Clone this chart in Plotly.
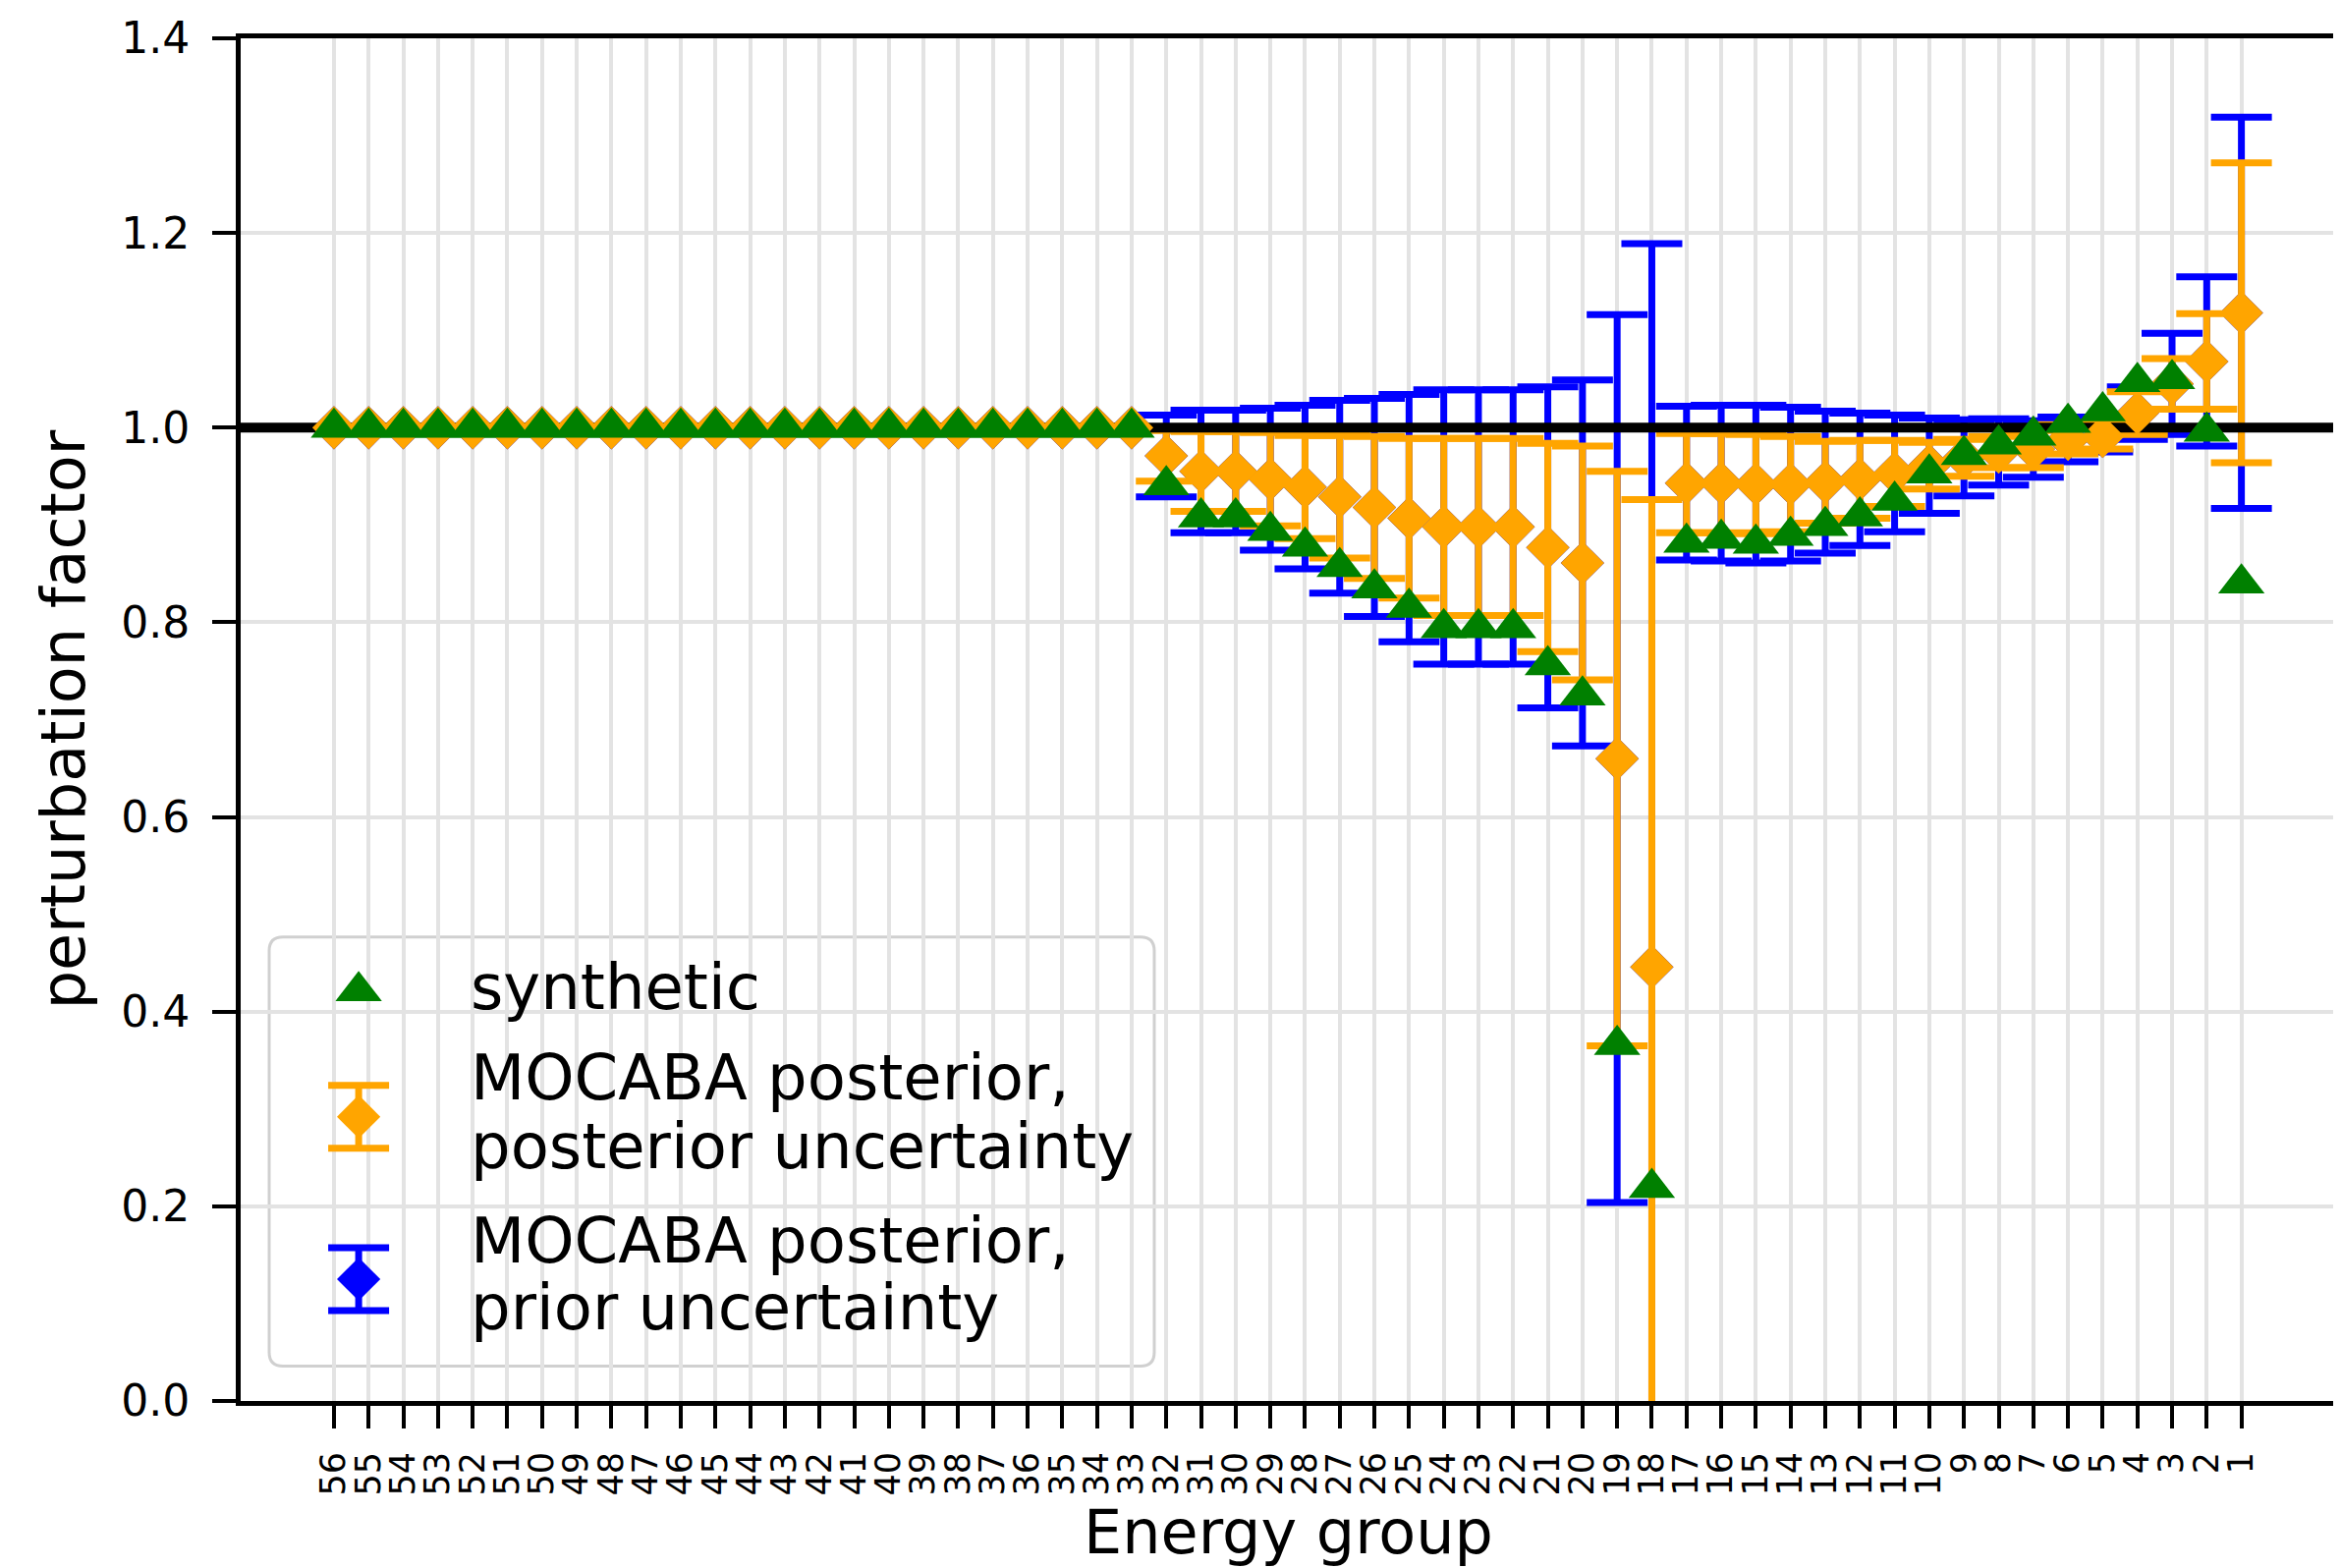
import plotly.graph_objects as go

# ---------------- data ----------------
groups = [56, 55, 54, 53, 52, 51, 50, 49, 48, 47, 46, 45, 44, 43, 42, 41, 40, 39, 38, 37, 36, 35, 34, 33,
          32, 31, 30, 29, 28, 27, 26, 25, 24, 23, 22, 21, 20, 19, 18, 17,
          16, 15, 14, 13, 12, 11, 10, 9, 8, 7, 6, 5, 4, 3, 2, 1]

synthetic = [1.0, 1.0, 1.0, 1.0, 1.0, 1.0, 1.0, 1.0, 1.0, 1.0, 1.0, 1.0, 1.0, 1.0, 1.0, 1.0, 1.0, 1.0, 1.0, 1.0, 1.0, 1.0, 1.0, 1.0,
             0.941, 0.908, 0.908, 0.894, 0.878, 0.857, 0.835, 0.815, 0.794, 0.794, 0.794, 0.756, 0.725, 0.366, 0.219, 0.882,
             0.886, 0.881, 0.889, 0.899, 0.909, 0.925, 0.953, 0.972, 0.983, 0.992, 1.005, 1.017, 1.047, 1.050, 0.996, 0.840]

posterior = [1.0, 1.0, 1.0, 1.0, 1.0, 1.0, 1.0, 1.0, 1.0, 1.0, 1.0, 1.0, 1.0, 1.0, 1.0, 1.0, 1.0, 1.0, 1.0, 1.0, 1.0, 1.0, 1.0, 1.0,
             0.971, 0.955, 0.955, 0.947, 0.939, 0.929, 0.918, 0.907, 0.898, 0.898, 0.898, 0.877, 0.861, 0.660, 0.446, 0.943,
             0.943, 0.942, 0.942, 0.944, 0.947, 0.953, 0.961, 0.969, 0.975, 0.978, 0.988, 0.991, 1.015, 1.045, 1.068, 1.118]

posterior_unc = [0, 0, 0, 0, 0, 0, 0, 0, 0, 0, 0, 0, 0, 0, 0, 0, 0, 0, 0, 0, 0, 0, 0, 0,
                 0.026, 0.041, 0.041, 0.048, 0.053, 0.063, 0.073, 0.082, 0.091, 0.091, 0.091, 0.107, 0.120, 0.295, 0.480, 0.051,
                 0.051, 0.051, 0.049, 0.042, 0.040, 0.034, 0.024, 0.019, 0.016, 0.019, 0.015, 0.013, 0.022, 0.026, 0.049, 0.154]

prior_unc = [0, 0, 0, 0, 0, 0, 0, 0, 0, 0, 0, 0, 0, 0, 0, 0, 0, 0, 0, 0, 0, 0, 0, 0,
             0.042, 0.063, 0.063, 0.073, 0.084, 0.099, 0.112, 0.127, 0.141, 0.141, 0.141, 0.165, 0.188, 0.456, 0.743, 0.079,
             0.080, 0.081, 0.079, 0.073, 0.068, 0.060, 0.049, 0.039, 0.034, 0.029, 0.023, 0.016, 0.027, 0.052, 0.087, 0.201]

tick_labels = [str(g) for g in groups]
y_ticks = [0.0, 0.2, 0.4, 0.6, 0.8, 1.0, 1.2, 1.4]

legend_labels = ["synthetic",
                 ["MOCABA posterior,", "posterior uncertainty"],
                 ["MOCABA posterior,", "prior uncertainty"]]

# ---------------- styling / layout constants ----------------
FONT = "DejaVu Sans"
GREEN = "green"
ORANGE = "orange"
BLUE = "blue"
X_RANGE = [58.69, -1.73]
Y_RANGE = [0, 1.4]
REF_LEVEL = 1.0
EB_THICK = 7
EB_HALF = 31
TRI_SIZE = 41
DIA_SIZE = 34

fig = go.Figure()

# prior uncertainty error bars (blue)
fig.add_trace(go.Scatter(
    x=groups, y=posterior, mode="markers",
    marker=dict(symbol="diamond", size=DIA_SIZE, color=BLUE, line=dict(width=0)),
    error_y=dict(type="data", array=prior_unc, symmetric=True, color=BLUE,
                 thickness=EB_THICK, width=EB_HALF),
    showlegend=False, hoverinfo="skip"))

# posterior uncertainty error bars (orange)
fig.add_trace(go.Scatter(
    x=groups, y=posterior, mode="markers",
    marker=dict(symbol="diamond", size=2, color=ORANGE, opacity=0),
    error_y=dict(type="data", array=posterior_unc, symmetric=True, color=ORANGE,
                 thickness=EB_THICK, width=EB_HALF),
    showlegend=False, hoverinfo="skip"))

# reference line at 1.0
fig.add_trace(go.Scatter(
    x=X_RANGE, y=[REF_LEVEL, REF_LEVEL], mode="lines",
    line=dict(color="black", width=10), showlegend=False, hoverinfo="skip"))

# posterior markers
fig.add_trace(go.Scatter(
    x=groups, y=posterior, mode="markers",
    marker=dict(symbol="diamond", size=DIA_SIZE, color=ORANGE, line=dict(width=0)),
    showlegend=False))

# synthetic markers
fig.add_trace(go.Scatter(
    x=groups, y=synthetic, mode="markers",
    marker=dict(symbol="triangle-up", size=TRI_SIZE, color=GREEN, line=dict(width=0)),
    showlegend=False))

# ---------------- hand-made legend (matplotlib style) ----------------
LX = 0.0563
leg_y = [0.3009, 0.2086, 0.0894]
leg_err = 0.0231
fig.add_trace(go.Scatter(x=[LX], y=[leg_y[0]], xaxis="x2", yaxis="y2", mode="markers",
                         marker=dict(symbol="triangle-up", size=TRI_SIZE, color=GREEN, line=dict(width=0)),
                         showlegend=False, hoverinfo="skip"))
fig.add_trace(go.Scatter(x=[LX], y=[leg_y[1]], xaxis="x2", yaxis="y2", mode="markers",
                         marker=dict(symbol="diamond", size=DIA_SIZE, color=ORANGE, line=dict(width=0)),
                         error_y=dict(type="data", array=[leg_err], color=ORANGE, thickness=EB_THICK, width=EB_HALF),
                         showlegend=False, hoverinfo="skip"))
fig.add_trace(go.Scatter(x=[LX], y=[leg_y[2]], xaxis="x2", yaxis="y2", mode="markers",
                         marker=dict(symbol="diamond", size=DIA_SIZE, color=BLUE, line=dict(width=0)),
                         error_y=dict(type="data", array=[leg_err], color=BLUE, thickness=EB_THICK, width=EB_HALF),
                         showlegend=False, hoverinfo="skip"))

# legend frame (rounded rectangle)
bx0, bx1, by0, by1 = 0.0136, 0.436, 0.0256, 0.3405
rx, ry = 14 / 2133, 14 / 1387.5
frame_path = (f"M {bx0+rx},{by0} L {bx1-rx},{by0} Q {bx1},{by0} {bx1},{by0+ry} "
              f"L {bx1},{by1-ry} Q {bx1},{by1} {bx1-rx},{by1} "
              f"L {bx0+rx},{by1} Q {bx0},{by1} {bx0},{by1-ry} "
              f"L {bx0},{by0+ry} Q {bx0},{by0} {bx0+rx},{by0} Z")
fig.add_shape(type="path", path=frame_path, xref="paper", yref="paper",
              fillcolor="rgba(255,255,255,0.85)", line=dict(color="#d0d0d0", width=3),
              layer="between")

TX = 0.1086
LEG_FONT = dict(family=FONT, size=64, color="black")
text_rows = [(legend_labels[0], 0.3038),
             (legend_labels[1][0], 0.2375), (legend_labels[1][1], 0.1870),
             (legend_labels[2][0], 0.1178), (legend_labels[2][1], 0.0688)]
for txt, yy in text_rows:
    fig.add_annotation(x=TX, y=yy, xref="paper", yref="paper", text=txt, showarrow=False,
                       xanchor="left", yanchor="middle", font=LEG_FONT)

# ---------------- axes ----------------
fig.update_xaxes(
    range=X_RANGE, tickmode="array", tickvals=groups, ticktext=tick_labels, tickangle=-90,
    ticks="outside", ticklen=23, tickwidth=4, tickcolor="black",
    tickfont=dict(family=FONT, size=35, color="black"), ticklabelstandoff=10,
    showline=True, linecolor="black", linewidth=5, mirror=True,
    showgrid=True, gridcolor="#e3e3e3", gridwidth=4, zeroline=False,
    title=dict(text="Energy group", font=dict(family=FONT, size=62, color="black"), standoff=14))

fig.update_yaxes(
    range=Y_RANGE, tickmode="array", tickvals=y_ticks, ticktext=[f"{v:.1f}" for v in y_ticks],
    ticks="outside", ticklen=24, tickwidth=4, tickcolor="black",
    tickfont=dict(family=FONT, size=44, color="black"), ticklabelstandoff=14,
    showline=True, linecolor="black", linewidth=5, mirror=True,
    showgrid=True, gridcolor="#e3e3e3", gridwidth=4, zeroline=False,
    title=dict(text="perturbation factor", font=dict(family=FONT, size=62, color="black"), standoff=18))

# the page body adds an 8 px offset, so the margins are reduced by 8 px on the left/top
fig.update_layout(
    xaxis2=dict(overlaying="x", range=[0, 1], visible=False),
    yaxis2=dict(overlaying="y", range=[0, 1], visible=False),
    width=2383, height=1596,
    margin=dict(l=237, r=13, t=31, b=178, autoexpand=False),
    plot_bgcolor="white", paper_bgcolor="white",
    showlegend=False,
    font=dict(family=FONT, color="black"),
)

fig.write_html("out.html")
